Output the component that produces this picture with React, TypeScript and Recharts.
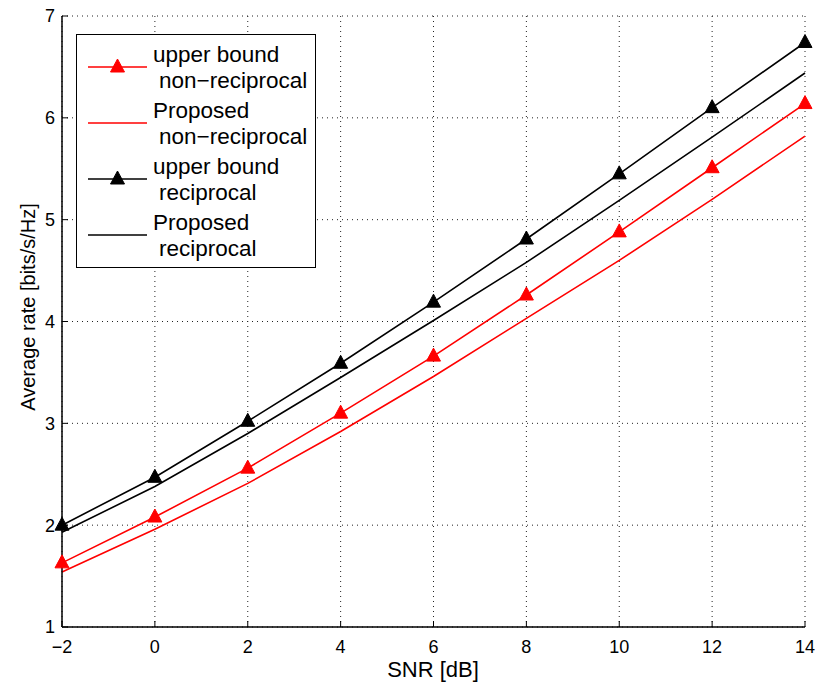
import { LineChart, Line, XAxis, YAxis, CartesianGrid, Legend } from 'recharts';

const snrDb = [-2, 0, 2, 4, 6, 8, 10, 12, 14];
const upperNonRecip = [1.63, 2.08, 2.56, 3.1, 3.66, 4.26, 4.88, 5.51, 6.14];
const proposedNonRecip = [1.54, 1.96, 2.41, 2.92, 3.46, 4.03, 4.6, 5.2, 5.82];
const upperRecip = [2.0, 2.47, 3.02, 3.59, 4.19, 4.81, 5.45, 6.1, 6.74];
const proposedRecip = [1.93, 2.38, 2.9, 3.45, 4.01, 4.58, 5.19, 5.81, 6.44];

const xTicks = [-2, 0, 2, 4, 6, 8, 10, 12, 14];
const yTicks = [1, 2, 3, 4, 5, 6, 7];

const legendItems = [
  { first: 'upper bound', second: 'non\u2212reciprocal', color: '#ff0000', marker: true },
  { first: 'Proposed', second: 'non\u2212reciprocal', color: '#ff0000', marker: false },
  { first: 'upper bound', second: 'reciprocal', color: '#000000', marker: true },
  { first: 'Proposed', second: 'reciprocal', color: '#000000', marker: false },
];

const data = snrDb.map((s, i) => ({
  snr: s,
  ubNon: upperNonRecip[i],
  propNon: proposedNonRecip[i],
  ubRec: upperRecip[i],
  propRec: proposedRecip[i],
}));

const FONT = '"Liberation Sans", Arial, Helvetica, sans-serif';

// matlab-style '^' marker
const triangle = (color: string) => (props: any) => {
  const { cx, cy, index } = props;
  if (cx == null || cy == null) return <g key={index} />;
  return (
    <polygon
      key={index}
      points={`${cx},${cy - 8} ${cx - 7},${cy + 5} ${cx + 7},${cy + 5}`}
      fill={color}
      stroke={color}
    />
  );
};

const LegendBox = () => (
  <div
    style={{
      width: 240,
      border: '1px solid #000',
      background: '#fff',
      padding: '7px 0 5px 0',
      fontFamily: FONT,
      fontSize: 22.5,
      color: '#000',
      boxSizing: 'border-box',
    }}
  >
    {legendItems.map((item, i) => (
      <div key={i} style={{ display: 'flex', alignItems: 'center', height: 52, marginTop: i === 0 ? 0 : 4 }}>
        <svg width={76} height={52} style={{ flex: 'none' }}>
          <line x1={11} x2={70} y1={25} y2={25} stroke={item.color} strokeWidth={1.6} />
          {item.marker && (
            <polygon points={`40.5,17 33.5,30 47.5,30`} fill={item.color} stroke={item.color} />
          )}
        </svg>
        <div style={{ lineHeight: '26px', whiteSpace: 'nowrap' }}>
          <div>{item.first}</div>
          <div style={{ paddingLeft: 6 }}>{item.second}</div>
        </div>
      </div>
    ))}
  </div>
);

export default function App() {
  return (
    <div style={{ position: 'absolute', left: 0, top: 0, width: 821, height: 687, background: '#fff' }}>
      <LineChart
        width={821}
        height={687}
        data={data}
        margin={{ top: 16, right: 16, bottom: 0, left: 0 }}
      >
        <CartesianGrid stroke="#222" strokeDasharray="1 4" strokeWidth={1} />
        <XAxis
          dataKey="snr"
          type="number"
          domain={[-2, 14]}
          ticks={xTicks}
          tickFormatter={(v: number) => (v < 0 ? `\u2212${Math.abs(v)}` : `${v}`)}
          height={60}
          stroke="#000"
          tickSize={-6}
          tickMargin={19}
          tick={{ fill: '#000', fontSize: 18, fontFamily: FONT }}
          axisLine={{ stroke: '#000', strokeWidth: 1.5 }}
          label={{
            content: () => (
              <text x={433} y={677} textAnchor="middle" fontSize={22} fontFamily={FONT} fill="#000">
                SNR [dB]
              </text>
            ),
          }}
        />
        <XAxis
          xAxisId="top"
          dataKey="snr"
          type="number"
          orientation="top"
          domain={[-2, 14]}
          ticks={xTicks}
          height={0}
          tick={false}
          tickSize={-6}
          stroke="#000"
          axisLine={{ stroke: '#000', strokeWidth: 1.5 }}
        />
        <YAxis
          type="number"
          domain={[1, 7]}
          ticks={yTicks}
          width={62}
          stroke="#000"
          tickSize={-6}
          tickMargin={13}
          tick={{ fill: '#000', fontSize: 18, fontFamily: FONT }}
          axisLine={{ stroke: '#000', strokeWidth: 1.5 }}
          label={{
            content: () => (
              <text
                x={35}
                y={307}
                transform="rotate(-90 35 307)"
                textAnchor="middle"
                fontSize={20}
                fontFamily={FONT}
                fill="#000"
              >
                Average rate [bits/s/Hz]
              </text>
            ),
          }}
        />
        <YAxis
          yAxisId="right"
          orientation="right"
          type="number"
          domain={[1, 7]}
          ticks={yTicks}
          width={0}
          tick={false}
          tickSize={-6}
          stroke="#000"
          axisLine={{ stroke: '#000', strokeWidth: 1.5 }}
        />
        <Legend
          layout="horizontal"
          verticalAlign="middle"
          align="center"
          content={() => <LegendBox />}
          wrapperStyle={{ position: 'absolute', left: 76, top: 34, width: 240 }}
        />
        <Line
          type="linear"
          dataKey="propNon"
          stroke="#ff0000"
          strokeWidth={1.6}
          dot={false}
          isAnimationActive={false}
        />
        <Line
          type="linear"
          dataKey="ubNon"
          stroke="#ff0000"
          strokeWidth={1.6}
          dot={triangle('#ff0000')}
          activeDot={false}
          isAnimationActive={false}
        />
        <Line
          type="linear"
          dataKey="propRec"
          stroke="#000000"
          strokeWidth={1.6}
          dot={false}
          isAnimationActive={false}
        />
        <Line
          type="linear"
          dataKey="ubRec"
          stroke="#000000"
          strokeWidth={1.6}
          dot={triangle('#000000')}
          activeDot={false}
          isAnimationActive={false}
        />
      </LineChart>
    </div>
  );
}
